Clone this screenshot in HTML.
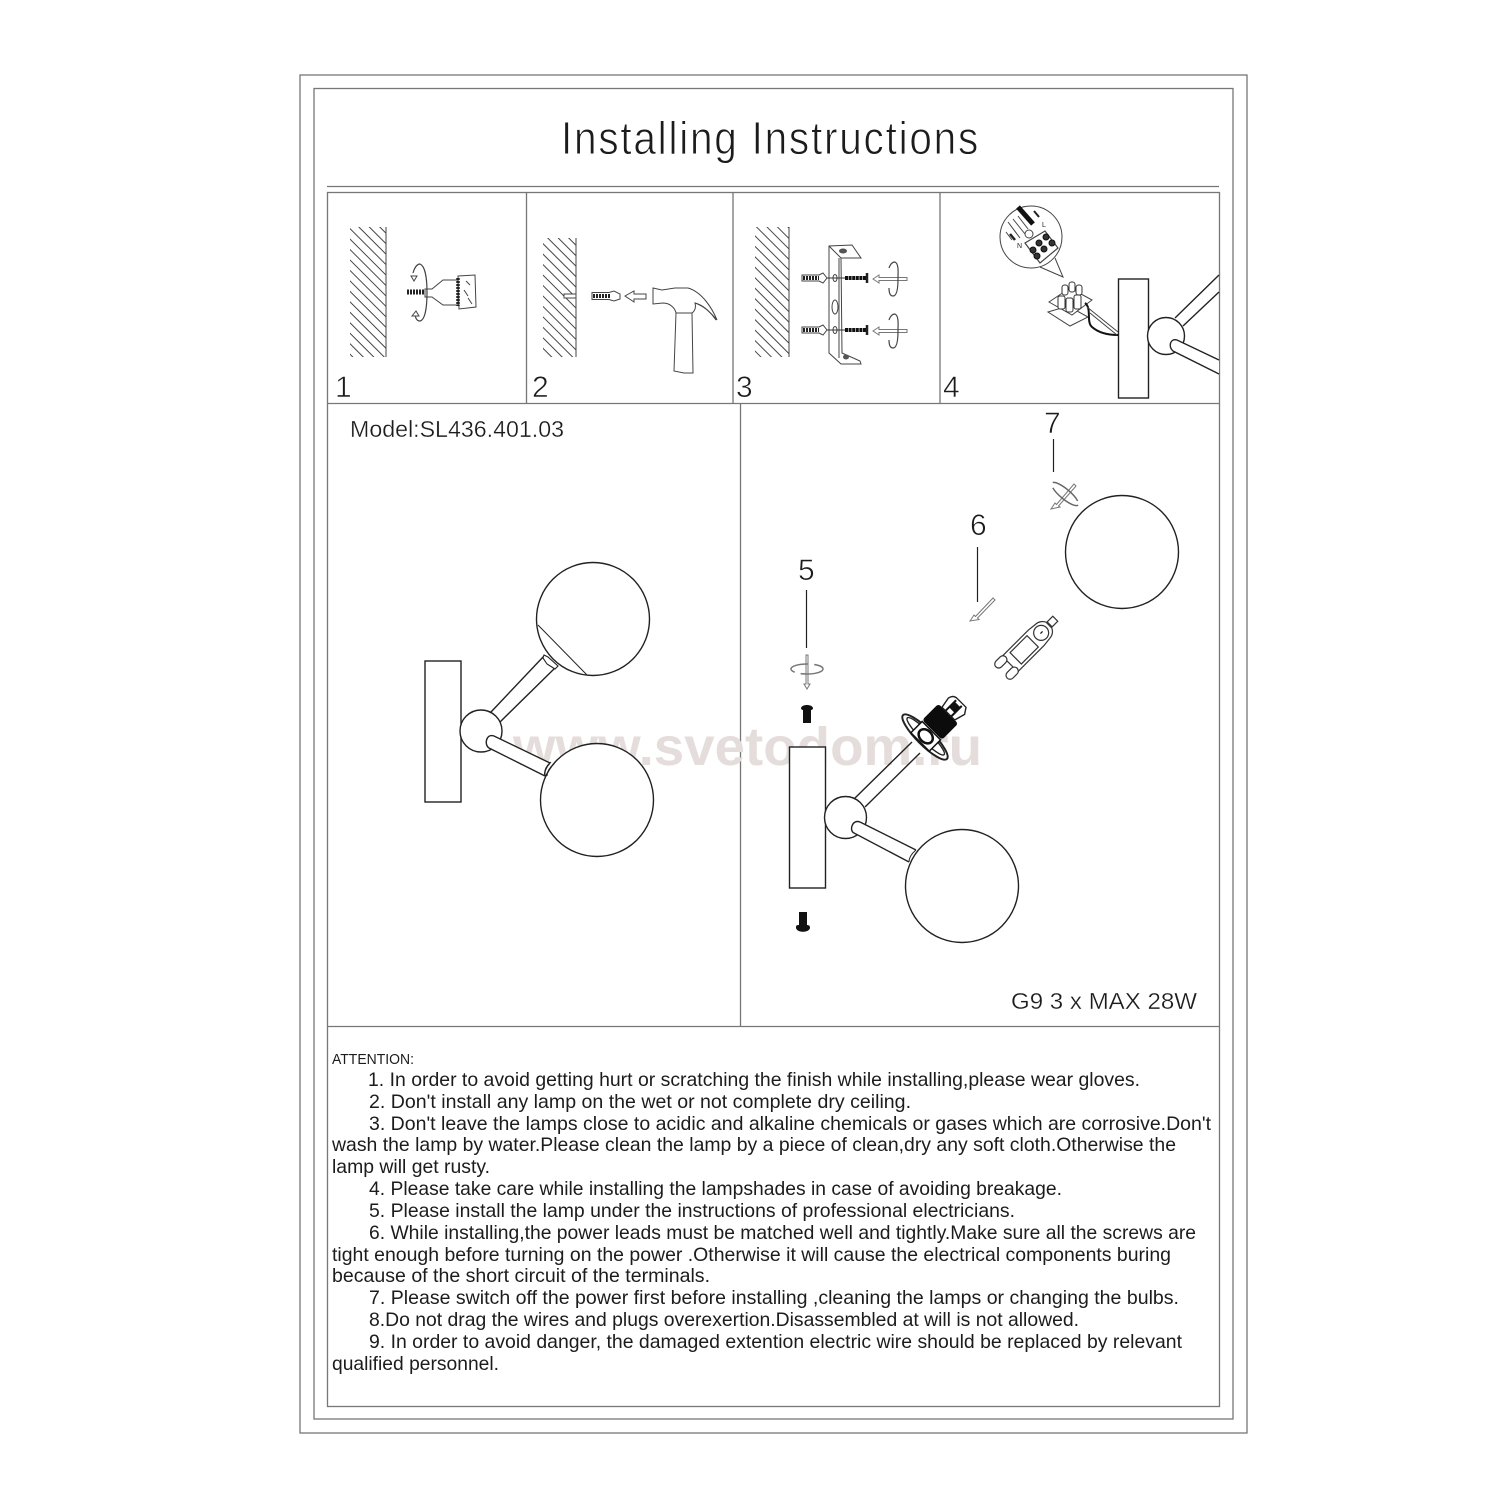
<!DOCTYPE html>
<html><head><meta charset="utf-8"><style>
html,body{margin:0;padding:0;background:#fff}
svg{display:block}
text{font-family:"Liberation Sans",sans-serif;fill:#1c1c1c}
.f{fill:none;stroke:#777;stroke-width:1.300}
.l{fill:none;stroke:#222;stroke-width:1.400}
.w{fill:#fff;stroke:#222;stroke-width:1.400}
.t{fill:none;stroke:#444;stroke-width:1}
.tw{fill:#fff;stroke:#444;stroke-width:1}
.g{fill:#fff;stroke:#777;stroke-width:1}
.b{font-size:19.500px}
.n{font-size:30px;stroke:#fff;stroke-width:.6px}
.m{stroke:#fff;stroke-width:.3px}
</style></head><body>
<svg width="1500" height="1500" viewBox="0 0 1500 1500" xmlns="http://www.w3.org/2000/svg">
<defs>
<pattern id="h" patternUnits="userSpaceOnUse" width="20" height="7.400" patternTransform="rotate(45)"><line x1="0" y1="3" x2="20" y2="3" stroke="#444" stroke-width="1"/></pattern>
</defs>
<rect width="1500" height="1500" fill="#fff"/>
<rect class="f" x="300" y="75" width="947" height="1358"/>
<rect class="f" x="314" y="88.500" width="919" height="1330.500"/>
<rect class="f" x="327.500" y="192.500" width="892" height="1214"/>
<path class="f" d="M327 186.500H1219M526.500 192V403M733 192V403M940 192V403M327 403.500H1219M740.500 403V1026M327 1026.500H1219"/>
<text x="561" y="154" font-size="46" textLength="419" lengthAdjust="spacingAndGlyphs" style="letter-spacing:2px;stroke:#fff;stroke-width:.9px">Installing Instructions</text>

<text x="513" y="765" font-size="54" font-weight="bold" textLength="469" lengthAdjust="spacingAndGlyphs" style="fill:#e4dddb">www.svetodom.ru</text>

<text class="n" x="335" y="397">1</text><text class="n" x="532" y="397">2</text><text class="n" x="736" y="397">3</text><text class="n" x="943" y="397">4</text>
<text class="m" x="350" y="437" font-size="23" textLength="214" lengthAdjust="spacingAndGlyphs">Model:SL436.401.03</text>
<text class="m" x="1011" y="1009" font-size="23" textLength="186" lengthAdjust="spacingAndGlyphs">G9 3 x MAX 28W</text>
<text class="n" x="798" y="580">5</text><text class="n" x="970" y="535">6</text><text class="n" x="1044" y="433">7</text>

<!-- Step 1 -->
<rect x="350" y="227" width="36" height="130" fill="url(#h)"/><path class="t" d="M386 227V357"/>
<path d="M407 292H425" stroke="#222" stroke-width="5" stroke-dasharray="2 1" fill="none"/>
<path class="tw" d="M425 289H432L443 280H458V305H443L432 297H425Z"/>
<path class="tw" d="M458 276L475 275L476 307L459 309Z"/>
<path d="M458 278V306" stroke="#222" stroke-width="3.500" stroke-dasharray="2 1" fill="none"/>
<path class="t" d="M464 290L468 296M468 298L472 304M466 281L470 285"/>
<path d="M413 273C415 266 418 264 420 264C425 266 427 278 427 292C427 308 425 320 420 321C417 321 415 318 415 312" fill="none" stroke="#444" stroke-width="1.200"/>
<path d="M411 276L417 276L414 281Z M412 316L419 316L416 311Z" fill="#fff" stroke="#444"/>

<!-- Step 2 -->
<rect x="543" y="238" width="33" height="119" fill="url(#h)"/><path class="t" d="M576 238V357"/>
<path class="tw" d="M564 294H576V298H564Z"/>
<path class="tw" d="M592 292.500H609L614 291L620 294V299L614 301L609 299.500H592Z"/>
<path d="M593 296H610" stroke="#222" stroke-width="4" stroke-dasharray="2 1"/>
<path class="tw" d="M625 296L634 291V294H646V299H634V302Z"/>
<path class="tw" d="M653 288L662 290L675 288L688 288C702 292 712 308 717 320C710 312 704 306 695 303C697 310 692 313 692 313H676C675 308 670 303 663 303L653 304Z"/>
<path class="t" d="M695 303C704 305 712 314 716 320"/>
<path class="tw" d="M676 313L674 371L684 373L693 373L692 313Z"/>

<!-- Step 3 -->
<rect x="755" y="227" width="34" height="130" fill="url(#h)"/><path class="t" d="M789 227V357"/>
<path class="tw" d="M829 246V353L841 364H861L860 361L842 353L841 258H861L852 245Z"/>
<path class="t" d="M829 246L841 258M839 258V358"/>
<ellipse cx="843" cy="251" rx="4" ry="2.500" fill="#555"/><ellipse cx="846" cy="357" rx="3" ry="2.500" fill="#555"/>
<ellipse class="t" cx="835" cy="278" rx="2" ry="3.500"/><ellipse class="t" cx="835" cy="307" rx="3" ry="7"/><ellipse class="t" cx="835" cy="330" rx="2" ry="3.500"/>
<g id="p3a"><path class="tw" d="M802 275H819L823 273L827 278L823 283L819 281H802Z"/><path d="M803 278H819" stroke="#222" stroke-width="4" stroke-dasharray="2 1"/><path d="M827 278H845" stroke="#333"/><path d="M845 278H866" stroke="#111" stroke-width="4" stroke-dasharray="3 .6"/><path d="M867 273V283" stroke="#222" stroke-width="2.500"/></g>
<g transform="translate(0,52)"><path class="tw" d="M802 275H819L823 273L827 278L823 283L819 281H802Z"/><path d="M803 278H819" stroke="#222" stroke-width="4" stroke-dasharray="2 1"/><path d="M827 278H845" stroke="#333"/><path d="M845 278H866" stroke="#111" stroke-width="4" stroke-dasharray="3 .6"/><path d="M867 273V283" stroke="#222" stroke-width="2.500"/></g>
<g id="a3"><path class="g" d="M873 279L879 275V277.500H907V280.500H879V283Z"/><path d="M889 268C891 262 894 262 895 262C899 264 898 272 898 279C898 288 897 296 893 296C890 296 889 292 889 288" fill="none" stroke="#444" stroke-width="1.200"/></g>
<g transform="translate(0,52)"><path class="g" d="M873 279L879 275V277.500H907V280.500H879V283Z"/><path d="M889 268C891 262 894 262 895 262C899 264 898 272 898 279C898 288 897 296 893 296C890 296 889 292 889 288" fill="none" stroke="#444" stroke-width="1.200"/></g>

<!-- Step 4 -->
<rect class="w" x="1118.500" y="279" width="30" height="119"/>
<circle class="w" cx="1166" cy="336" r="18.500"/>
<path class="l" d="M1175 318L1219 275M1183 326L1219 292"/>
<path class="w" d="M1219 360L1177 340C1170 338 1168 347 1173 351L1219 374"/>
<circle class="t" cx="1031" cy="237" r="31"/>
<path d="M1018 207L1033 224" stroke="#111" stroke-width="5"/>
<path d="M1034 211L1039 217" stroke="#222" stroke-width="2"/>
<path class="t" d="M1008 222L1020 238M1013 219L1025 234M1018 216L1028 229M1006 232L1012 240"/>
<path d="M1010 234L1015 240" stroke="#222" stroke-width="2.500"/>
<circle class="tw" cx="1029" cy="234" r="4"/>
<path class="tw" d="M1025 243L1045 231L1058 248L1040 263Z" style="stroke-width:1.200"/>
<g fill="#333" stroke="#111" stroke-width="1"><circle cx="1033" cy="250" r="3"/><circle cx="1039" cy="243" r="3"/><circle cx="1046" cy="237" r="3"/><circle cx="1037" cy="256" r="3"/><circle cx="1044" cy="249" r="3"/><circle cx="1052" cy="243" r="3"/></g>
<text x="1042" y="227" font-size="7">L</text><text x="1017" y="248" font-size="7">N</text>
<path class="t" d="M1040 267L1063 277L1055 258"/>
<path class="tw" d="M1048 312L1068 306L1088 317L1070 326Z"/>
<path class="tw" d="M1049 302L1070 288L1092 300L1072 315Z"/>
<g fill="#fff" stroke="#333" stroke-width="1"><rect x="1062" y="285" width="6" height="10" rx="2.500"/><rect x="1069" y="282" width="6" height="10" rx="2.500"/><rect x="1076" y="285" width="6" height="10" rx="2.500"/><rect x="1058" y="296" width="7" height="13" rx="2"/><rect x="1066" y="298" width="7" height="14" rx="2"/><rect x="1074" y="295" width="7" height="14" rx="2"/></g>
<path d="M1085 303C1092 308 1086 322 1092 327C1100 334 1110 335 1118 335" fill="none" stroke="#111" stroke-width="2"/>
<path class="t" d="M1087 307L1118 332M1090 313L1117 335"/>

<!-- Left lamp -->
<rect class="w" x="425" y="661" width="36" height="141"/>
<path class="l" d="M491 712L544 656M500 722L556 667"/>
<circle class="w" cx="481" cy="731" r="21"/>
<path class="w" d="M550 763L494 736C486 733 484 745 489 748L545 776"/>
<circle class="w" cx="593" cy="619" r="56.500"/>
<path class="l" d="M538 625L587 675" style="stroke-width:1"/>
<path class="w" d="M544 655L548 657L558 666L555 669L547 664L543 658Z" style="stroke-width:1.100"/>
<path class="l" d="M550 763C546 767 544 772 545 776"/>
<circle class="w" cx="597" cy="800" r="56.500"/>
<path class="l" d="M551 762C546 766 544 771 545 776M554 764C549 768 547 772 547 776" style="stroke-width:1"/>

<!-- Right lamp -->
<rect class="w" x="789.500" y="747" width="36" height="141"/>
<path class="l" d="M855 798L912 742M865 807L920 753"/>
<circle class="w" cx="845.500" cy="817.500" r="21"/>
<path class="w" d="M916 850L860 822C852 819 849 831 854 833L909 862"/>
<circle class="w" cx="962" cy="886" r="56.500"/>
<path class="l" d="M916 850C911 854 909 858 909 862" style="stroke-width:1"/>
<g transform="translate(925,737) rotate(45)">
<ellipse class="w" cx="0" cy="0" rx="31" ry="8" style="stroke-width:2"/>
<ellipse class="l" cx="0" cy="-1" rx="26" ry="5"/>
<rect x="-13" y="-9" width="26" height="16" fill="#fff" stroke="#111" stroke-width="1.500"/>
<ellipse cx="0" cy="-1" rx="8" ry="6" fill="#fff" stroke="#111" stroke-width="2.500"/>
<rect x="-14" y="-33" width="28" height="23" rx="3" fill="#0c0c0c"/>
<path class="w" d="M-9 -33L-11 -44Q-10 -50 -4 -50H8L12 -44L9 -33Z"/>
<path d="M-4 -33V-48M4 -33V-48" stroke="#111" stroke-width="2"/>
<rect x="-4" y="-46" width="8" height="8" fill="#111"/>
</g>

<!-- Arrow 5 -->
<path d="M806.500 590V648" stroke="#222" stroke-width="1.200"/>
<path class="g" d="M806 655H808V684L810 684L807 689L804 684H806Z"/>
<ellipse cx="807" cy="669" rx="16" ry="5" fill="none" stroke="#777" stroke-width="1.500" stroke-dasharray="24 6"/>
<path d="M801 708C802 704 812 704 813 708C813 710 811 710 811 710V723H803V710C803 710 801 710 801 708Z" fill="#111"/>
<path d="M799 912H807V925C810 925 810 927 810 928C809 933 797 933 796 928C796 926 796 925 799 925Z" fill="#111"/>

<!-- Arrow 6 and bulb -->
<path d="M977.500 547V602" stroke="#222" stroke-width="1.200"/>
<path class="g" d="M970 621L974 615L975.500 616.500L993 598L995 600L977.500 618L979 619.500Z"/>
<g transform="translate(1027,647) rotate(45)" fill="#fff" stroke="#333" stroke-width="1.200">
<rect x="-3.500" y="-40" width="7" height="8"/>
<path d="M-11 24V-13L-10 -22A10 10 0 0 1 -4 -31H4A10 10 0 0 1 10 -22L11 -13V24Z"/>
<circle cx="0" cy="-20" r="7.500"/>
<rect x="-8" y="-8" width="16" height="24"/>
<rect x="-12" y="22" width="8" height="14" rx="4"/>
<rect x="4" y="22" width="8" height="14" rx="4"/>
<path d="M0 -22V-19" stroke="#111"/>
</g>

<!-- Arrow 7 and top globe -->
<path d="M1053.500 439V472" stroke="#222" stroke-width="1.200"/>
<path class="g" d="M1051 509L1055 503L1056.500 504.500L1074 484L1076 486L1058.500 506L1060 507Z"/>
<ellipse cx="1065" cy="494" rx="17" ry="5" transform="rotate(40 1065 494)" fill="none" stroke="#666" stroke-width="1.500" stroke-dasharray="32 6"/>
<circle class="w" cx="1122" cy="552" r="56.500"/>

<!-- Attention text -->
<text x="332" y="1064" font-size="14.500" textLength="82" lengthAdjust="spacingAndGlyphs">ATTENTION:</text>
<text class="b" x="368" y="1086" textLength="772" lengthAdjust="spacingAndGlyphs">1. In order to avoid getting hurt or scratching the finish while installing,please wear gloves.</text>
<text class="b" x="369" y="1108" textLength="542" lengthAdjust="spacingAndGlyphs">2. Don't install any lamp on the wet or not complete dry ceiling.</text>
<text class="b" x="369" y="1130" textLength="842" lengthAdjust="spacingAndGlyphs">3. Don't leave the lamps close to acidic and alkaline chemicals or gases which are corrosive.Don't</text>
<text class="b" x="332" y="1151" textLength="844" lengthAdjust="spacingAndGlyphs">wash the lamp by water.Please clean the lamp by a piece of clean,dry any soft cloth.Otherwise the</text>
<text class="b" x="332" y="1173" textLength="158" lengthAdjust="spacingAndGlyphs">lamp will get rusty.</text>
<text class="b" x="369" y="1195" textLength="693" lengthAdjust="spacingAndGlyphs">4. Please take care while installing the lampshades in case of avoiding breakage.</text>
<text class="b" x="369" y="1217" textLength="646" lengthAdjust="spacingAndGlyphs">5. Please install the lamp under the instructions of professional electricians.</text>
<text class="b" x="369" y="1239" textLength="827" lengthAdjust="spacingAndGlyphs">6. While installing,the power leads must be matched well and tightly.Make sure all the screws are</text>
<text class="b" x="332" y="1261" textLength="839" lengthAdjust="spacingAndGlyphs">tight enough before turning on the power .Otherwise it will cause the electrical components buring</text>
<text class="b" x="332" y="1282" textLength="378" lengthAdjust="spacingAndGlyphs">because of the short circuit of the terminals.</text>
<text class="b" x="369" y="1304" textLength="810" lengthAdjust="spacingAndGlyphs">7. Please switch off the power first before installing ,cleaning the lamps or changing the bulbs.</text>
<text class="b" x="369" y="1326" textLength="710" lengthAdjust="spacingAndGlyphs">8.Do not drag the wires and plugs overexertion.Disassembled at will is not allowed.</text>
<text class="b" x="369" y="1348" textLength="813" lengthAdjust="spacingAndGlyphs">9. In order to avoid danger, the damaged extention electric wire should be replaced by relevant</text>
<text class="b" x="332" y="1370" textLength="167" lengthAdjust="spacingAndGlyphs">qualified personnel.</text>
</svg>
</body></html>
